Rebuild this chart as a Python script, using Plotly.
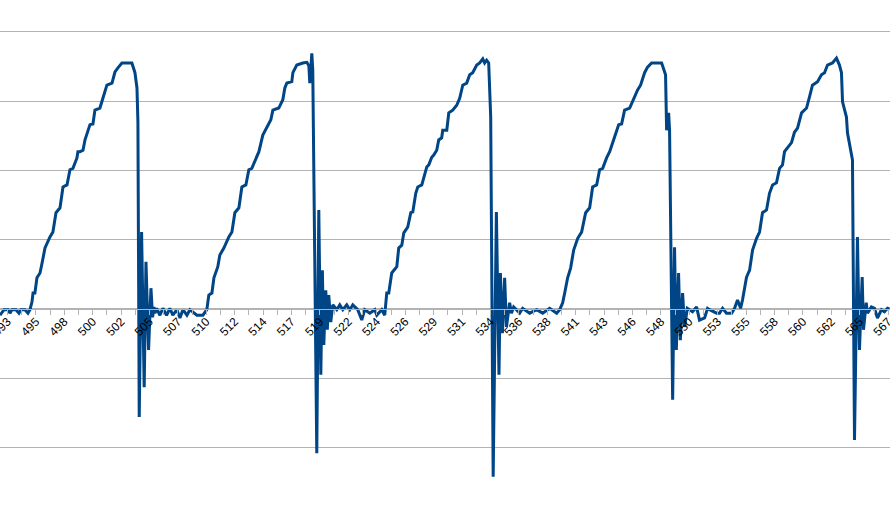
import plotly.graph_objects as go

# Time values (s) and signal values
t = [
    491.82, 492.16, 492.50, 492.66, 492.83, 493.17, 493.42, 493.59, 493.93, 494.18, 494.35,
    494.52, 494.61, 494.77, 494.94, 495.20, 495.37, 495.62, 496.04, 496.29, 496.55, 496.89,
    497.14, 497.48, 497.73, 497.98, 498.32, 498.40, 498.57, 498.83, 499.00, 499.42, 499.67,
    499.84, 500.26, 500.52, 500.85, 501.28, 501.53, 501.78, 502.12, 502.96, 503.22, 503.39,
    503.47, 503.58, 503.78, 504.00, 504.15, 504.37, 504.57, 504.71, 504.82, 504.91, 505.05,
    505.33, 505.58, 505.89, 506.17, 506.42, 506.76, 507.02, 507.27, 507.61, 507.86, 508.45,
    508.96, 509.29,
    509.46, 509.72, 509.89, 510.22, 510.39, 510.73, 511.15, 511.41, 511.66, 512.00, 512.25,
    512.59, 512.84, 513.09, 513.43, 513.69, 514.02, 514.45, 514.70, 514.87, 515.37, 515.71,
    515.88, 516.05, 516.47, 516.56, 516.89, 517.40, 517.74, 517.91, 517.99, 518.16, 518.24,
    518.58, 518.75, 518.92, 519.05, 519.17, 519.34, 519.47, 519.59, 519.76, 519.93, 520.27,
    520.52, 520.78, 521.11, 521.37, 521.62, 522.04, 522.38, 522.63, 523.06, 523.48, 523.65,
    524.07, 524.32,
    524.49, 524.66, 524.91, 525.34, 525.50, 525.76, 525.93, 526.26, 526.52, 526.69, 526.94,
    527.11, 527.45, 527.61, 527.87, 528.04, 528.29, 528.46, 528.71, 528.88, 529.13, 529.22,
    529.56, 529.73, 530.06, 530.40, 530.65, 530.91, 531.24, 531.50, 531.75, 532.09, 532.34,
    532.60, 532.76, 532.93, 533.10, 533.27, 533.48, 533.75, 533.97, 534.09, 534.26, 534.45,
    534.60, 534.87, 535.02, 535.21, 535.72, 535.97, 536.56, 537.15, 537.66, 538.25, 538.84,
    539.10,
    539.35, 539.52, 539.77, 540.02, 540.28, 540.62, 540.95, 541.29, 541.63, 541.88, 542.22,
    542.47, 542.73, 543.06, 543.32, 543.65, 544.08, 544.33, 544.58, 545.01, 545.34, 545.68,
    545.93, 546.27, 546.52, 546.86, 547.71, 548.04, 548.13, 548.30, 548.38, 548.64, 548.80,
    548.95, 549.14, 549.29, 549.48, 549.65, 549.88, 550.32, 550.66, 550.91, 551.34, 551.59,
    551.76, 552.35,
    552.60, 552.86, 553.19, 553.62, 553.87, 554.12, 554.38, 554.54, 554.88, 555.14, 555.39,
    555.73, 555.98, 556.23, 556.57, 556.82, 557.08, 557.41, 557.67, 557.92, 558.09, 558.34,
    558.68, 558.93, 559.19, 559.53, 559.95, 560.20, 560.45, 560.88, 561.21, 561.47, 561.72,
    562.14, 562.48, 562.73, 562.90, 562.99, 563.32, 563.41, 563.66, 563.75, 563.83, 564.00,
    564.25, 564.42, 564.65, 564.76, 564.99, 565.10, 565.43, 565.69, 565.94, 566.28, 566.53,
    566.79, 566.95,
]
signal = [
    -0.9, -0.1, -0.1, -0.6, -0.1, -0.1, -0.6, -0.1, -0.1, -0.6, -0.1,
    1.0, 2.3, 2.3, 4.5, 5.2, 6.6, 8.8, 10.4, 11.1, 13.9, 14.6,
    17.6, 17.9, 20.1, 20.3, 21.8, 22.7, 22.7, 22.9, 24.4, 26.6, 26.7,
    28.7, 29.0, 30.4, 32.3, 32.6, 34.2, 34.8, 35.5, 35.5, 34.1, 31.9,
    27.0, -15.6, 11.1, -11.3, 6.8, -5.9, 3.0, -1.2, 0.3, -0.6, 0.1,
    -0.9, 0.1, -0.9, 0.1, -0.9, -0.1, -1.3, -0.1, -0.9, -0.1, -0.9,
    -0.9, -0.1,
    2.0, 2.3, 4.5, 6.1, 7.8, 8.8, 10.4, 11.1, 13.9, 14.6, 17.6,
    17.9, 20.1, 20.3, 21.8, 22.7, 25.1, 26.6, 27.3, 28.7, 29.0, 30.2,
    31.9, 32.6, 32.8, 34.1, 35.2, 35.5, 35.6, 35.1, 32.6, 36.9, 34.5,
    -20.8, 14.3, -9.5, 5.6, -5.2, 2.7, -3.0, 2.0, -1.9, 0.6, -0.1,
    0.6, -0.1, 0.6, -0.1, 0.6, -0.1, -1.6, -0.1, -0.6, -0.1, -0.9,
    -0.1, -0.9,
    2.3, 2.3, 5.2, 6.1, 8.8, 9.2, 11.0, 11.8, 13.9, 14.0, 16.7,
    17.6, 17.9, 19.0, 20.5, 20.8, 21.9, 22.2, 22.9, 24.4, 24.7, 25.8,
    25.8, 28.3, 28.7, 29.4, 30.4, 32.3, 32.6, 33.8, 34.1, 35.2, 35.5,
    36.1, 35.5, 35.9, 35.5, 27.7, -24.2, 14.0, -9.5, 5.2, -3.5, 4.5,
    -2.6, 0.9, -0.6, 0.3, -0.6, 0.1, -0.6, -0.1, -0.6, 0.1, -0.6,
    -0.1,
    0.9, 2.3, 4.5, 5.9, 8.5, 10.2, 11.1, 13.9, 14.6, 17.6, 17.9,
    20.1, 20.3, 21.8, 22.7, 24.4, 26.6, 26.7, 28.7, 29.0, 30.4, 31.6,
    32.3, 34.1, 34.9, 35.5, 35.5, 33.8, 25.8, 28.3, 25.8, -13.1, 8.9,
    -5.9, 5.2, -4.5, 2.3, -2.6, 0.1, -0.4, 0.3, -1.6, -1.3, 0.1,
    -0.1, -0.6,
    -0.6, 0.1, -0.6, -0.6, 0.1, 1.3, 0.1, 1.3, 4.6, 5.6, 8.5,
    10.2, 11.1, 13.9, 14.3, 16.7, 17.9, 18.2, 20.3, 20.8, 22.7, 23.2,
    24.0, 25.5, 26.1, 28.3, 29.0, 30.6, 32.3, 32.8, 33.8, 34.1, 35.2,
    35.5, 36.2, 35.2, 34.1, 29.9, 27.7, 25.4, 23.2, 22.2, 21.5, -18.9,
    10.4, -5.9, 4.6, -3.0, 0.9, -0.6, 0.3, 0.1, -1.3, -0.1, -0.4,
    0.1, 0.0,
]

tick_labels = ["493", "495", "498", "500", "502", "505", "507", "510", "512", "514",
               "517", "519", "522", "524", "526", "529", "531", "534", "536", "538",
               "541", "543", "546", "548", "550", "553", "555", "558", "560", "562",
               "565", "567"]

tick_start = 492.45
tick_step = 2.4
tickvals = []
ticktext = []
for i, lab in enumerate(tick_labels):
    v = tick_start + tick_step * i
    tickvals.append(v)
    ticktext.append(lab)
    tickvals.append(v + tick_step / 2)
    ticktext.append("")

y_min, y_max = -28.43, 44.59
x_min, x_max = 491.82, 567.0

fig = go.Figure()
fig.add_trace(go.Scatter(
    x=t, y=signal, mode="lines",
    line=dict(color="#004586", width=3),
    hoverinfo="skip", showlegend=False,
))

fig.update_layout(
    width=890, height=506,
    margin=dict(l=0, r=0, t=0, b=0),
    paper_bgcolor="white", plot_bgcolor="white",
    showlegend=False,
    xaxis=dict(
        range=[x_min, x_max],
        tickmode="array", tickvals=tickvals, ticktext=ticktext,
        ticks="outside", ticklen=5, tickcolor="#b3b3b3", tickwidth=1,
        tickangle=-45, ticklabelstandoff=-5, ticklabeloverflow="allow",
        tickfont=dict(family="Liberation Sans", size=12, color="#000000"),
        showgrid=False, zeroline=False,
        showline=True, linecolor="#b3b3b3", linewidth=1,
        anchor="free", position=(0 - y_min) / (y_max - y_min),
        automargin=False,
    ),
    yaxis=dict(
        range=[y_min, y_max],
        tick0=0, dtick=10,
        showgrid=True, gridcolor="#b3b3b3", gridwidth=1,
        showticklabels=False, ticks="",
        zeroline=False, showline=False,
        automargin=False,
    ),
)

fig.write_html(
    "out.html",
    config={"displayModeBar": False},
    post_script="document.body.style.margin='0';document.body.style.padding='0';",
)
